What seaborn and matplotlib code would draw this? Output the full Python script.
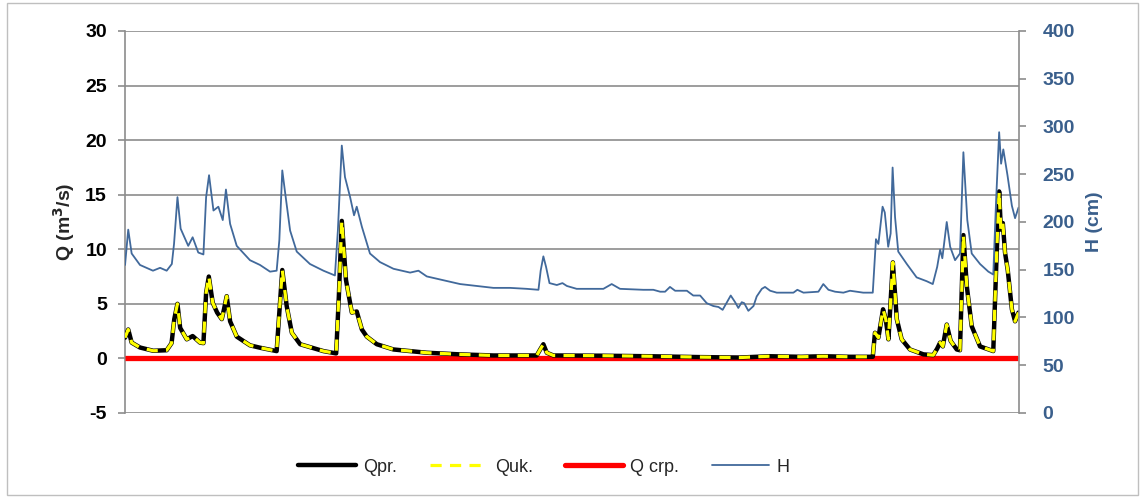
import matplotlib
matplotlib.use('Agg')
import matplotlib.pyplot as plt
import seaborn as sns
import pandas as pd
from matplotlib.lines import Line2D
from matplotlib.patches import Rectangle

# Water level H (cm); day of the year on x
h_day = [0, 1.3, 2.7, 6.1, 11.4, 14.3, 17.0, 19.1, 20.0, 21.4, 22.7, 25.8, 27.6, 29.9,
         32.0, 33.1, 34.3, 36.1, 38.1, 39.9, 41.2, 42.9, 45.6, 51.0, 55.1, 59.2, 61.9,
         63.0, 64.2, 65.6, 67.4, 70.1, 75.5, 81.0, 85.7, 86.9, 88.5, 89.8, 91.9, 93.5,
         94.6, 96.7, 98.0, 100.0, 104.1, 109.6, 116.4, 119.8, 123.2, 130.0, 136.8,
         143.6, 150.4, 157.2, 164.0, 168.8, 169.7, 170.8, 171.9, 173.3, 176.3, 178.6,
         180.4, 184.4, 190.0, 195.3, 198.7, 202.1, 211.6, 215.7, 218.5, 220.5, 222.5,
         224.6, 229.4, 232.0, 234.8, 237.5, 240.2, 242.3, 244.0, 247.3, 249.1, 250.4,
         251.8, 252.8, 254.5, 256.6, 257.9, 260.0, 261.3, 263.4, 266.1, 272.9, 274.5,
         277.0, 283.1, 285.1, 287.2, 289.9, 293.3, 296.0, 301.4, 305.3, 306.6, 307.6,
         309.3, 310.2, 311.6, 312.6, 313.4, 314.4, 315.7, 319.2, 323.2, 327.3, 329.8,
         331.6, 332.8, 333.7, 335.5, 336.9, 338.9, 340.9, 342.3, 343.9, 345.7, 349.1,
         352.5, 354.5, 355.6, 356.9, 357.7, 358.6, 360.3, 362.1, 363.4, 364.8]
h_cm = [155, 192, 167, 155, 149, 152, 149, 156, 177, 226, 193, 175, 184, 168,
        166, 226, 249, 212, 216, 202, 234, 198, 175, 160, 155, 148, 149,
        181, 254, 226, 191, 169, 156, 149, 144, 191, 280, 247, 226, 207,
        216, 195, 184, 167, 158, 151, 147, 149, 143, 139, 135,
        133, 131, 131, 130, 129, 149, 164, 153, 136, 134, 136,
        133, 130, 130, 130, 135, 130, 129, 129, 127, 127, 132,
        128, 128, 123, 123, 115, 112, 111, 108, 123, 116, 110,
        116, 115, 107, 112, 122, 130, 132, 128, 126, 126, 129,
        126, 127, 135, 129, 127, 126, 128, 126, 126, 182, 177,
        216, 210, 174, 188, 257, 205, 169, 156, 142, 138, 135,
        153, 171, 162, 200, 174, 160, 167, 273, 202, 167, 156,
        148, 145, 219, 294, 261, 276, 249, 217, 204, 215]

# Discharge Q (m3/s)
q_day = [0, 1.3, 2.7, 6.1, 11.5, 17.0, 19.0, 20.1, 21.4, 22.5, 25.2, 27.6, 30.6, 32.0,
         33.1, 34.2, 35.8, 37.6, 39.5, 40.4, 41.5, 42.9, 45.6, 51.0, 55.1, 61.9, 62.9,
         64.2, 66.0, 68.1, 71.5, 81.0, 86.2, 87.3, 88.5, 90.2, 92.6, 94.6, 96.7, 98.7,
         102.8, 109.6, 123.2, 136.8, 150.4, 168.1, 169.5, 170.8, 172.2, 174.9, 194.0,
         214.0, 235.0, 251.0, 263.0, 276.0, 285.0, 296.0, 305.3, 306.2, 307.6, 309.5,
         310.6, 311.7, 313.5, 315.1, 317.1, 320.5, 326.0, 330.0, 331.6, 332.8, 333.9,
         335.5, 337.1, 339.6, 340.9, 342.3, 343.7, 345.7, 349.1, 354.5, 355.9, 356.9,
         357.6, 358.4, 359.3, 360.4, 362.1, 363.4, 364.8]
q_pr = [1.9, 2.65, 1.45, 1.0, 0.7, 0.75, 1.4, 3.6, 5.0, 2.8, 1.75, 2.05, 1.45, 1.4,
        6.0, 7.5, 5.1, 4.2, 3.6, 4.5, 5.7, 3.4, 2.0, 1.2, 0.98, 0.67, 3.9,
        8.1, 4.8, 2.35, 1.3, 0.67, 0.46, 5.7, 12.6, 7.2, 4.2, 4.3, 2.65, 2.0,
        1.3, 0.82, 0.52, 0.37, 0.27, 0.27, 0.82, 1.3, 0.52, 0.27, 0.25,
        0.2, 0.12, 0.08, 0.2, 0.15, 0.2, 0.15, 0.15, 2.35, 1.9, 4.5,
        3.6, 1.75, 8.8, 3.6, 1.75, 0.82, 0.37, 0.3, 0.9, 1.45, 1.1,
        3.1, 1.6, 0.82, 0.75, 11.3, 6.6, 2.95, 1.1, 0.67, 9.7, 15.3,
        11.8, 12.4, 9.7, 8.1, 4.5, 3.4, 4.2]
# the computed series coincides with the measured one in the picture
q_uk = list(q_pr)
q_crp = [0.0] * len(q_day)

df_q = pd.DataFrame({'day': q_day, 'Qpr.': q_pr, 'Quk.': q_uk, 'Q crp.': q_crp})
df_h = pd.DataFrame({'day': h_day, 'H': h_cm})

sns.set_style('white')
plt.rcParams['font.family'] = ['Liberation Sans', 'DejaVu Sans']
plt.rcParams['axes.unicode_minus'] = False

H_COLOR = '#41699B'
H_TEXT = '#3A5F8C'
GRID = '#8C8C8C'

fig = plt.figure(figsize=(11.43, 4.98), dpi=100)
ax = fig.add_axes([0.1094, 0.1707, 0.7821, 0.7671])
ax2 = ax.twinx()

# Q series on the left axis
sns.lineplot(data=df_q, x='day', y='Q crp.', ax=ax, color='#FF0000', lw=3.8,
             solid_capstyle='butt', zorder=3)
sns.lineplot(data=df_q, x='day', y='Qpr.', ax=ax, color='black', lw=3.2, zorder=4)
sns.lineplot(data=df_q, x='day', y='Quk.', ax=ax, color='#FFFF00', lw=2.3, zorder=5)
ax.lines[-1].set_dashes([3.5, 2.6])

# H on the right axis
sns.lineplot(data=df_h, x='day', y='H', ax=ax2, color=H_COLOR, lw=1.3)

ax.set_xlim(0, 365)
ax.set_ylim(-5, 30)
ax.set_yticks(range(-5, 31, 5))
ax2.set_ylim(0, 400)
ax2.set_yticks(range(0, 401, 50))
ax.set_xticks([])
ax.set_xlabel('')
ax2.set_xlabel('')

ax.grid(axis='y', color=GRID, lw=1.2)
ax.set_axisbelow(True)
for a in (ax, ax2):
    a.spines['top'].set_visible(False)
    a.spines['bottom'].set_visible(False)
    a.spines['left'].set_color(GRID)
    a.spines['right'].set_color(GRID)
    a.spines['left'].set_linewidth(1.2)
    a.spines['right'].set_linewidth(1.2)
ax.spines['right'].set_visible(False)
ax2.spines['left'].set_visible(False)

ax.tick_params(axis='y', direction='out', length=5, width=1.2, color=GRID, pad=8,
               labelsize=14, labelcolor='black', left=True)
ax2.tick_params(axis='y', direction='out', length=5, width=1.2, color=GRID, pad=12,
                labelsize=14, labelcolor=H_TEXT, right=True)
ax.set_yticklabels([str(v) for v in range(-5, 31, 5)], fontweight='bold')
ax2.set_yticklabels([str(v) for v in range(0, 401, 50)], fontweight='bold')

ax.set_ylabel('Q (m$\\mathbf{^3}$/s)', fontsize=14, fontweight='bold', labelpad=6)
ax2.set_ylabel('H (cm)', fontsize=14, fontweight='bold', color=H_TEXT, labelpad=8)

handles = [
    Line2D([], [], color='black', lw=3.2),
    Line2D([], [], color='#FFFF00', lw=2.3, dashes=[3.5, 2.6]),
    Line2D([], [], color='#FF0000', lw=3.8),
    Line2D([], [], color=H_COLOR, lw=1.3),
]
fig.legend(handles, ['Qpr.', 'Quk.', 'Q crp.', 'H'], loc='center',
           bbox_to_anchor=(0.476, 0.062), ncol=4, frameon=False, fontsize=13,
           handlelength=3.2, columnspacing=1.8, handletextpad=0.4)

# thin frame round the whole chart
fig.patches.append(Rectangle((0.006, 0.006), 0.99, 0.988, transform=fig.transFigure,
                             fill=False, edgecolor='#BFBFBF', lw=1.0))

fig.savefig('out.png', dpi=100)
